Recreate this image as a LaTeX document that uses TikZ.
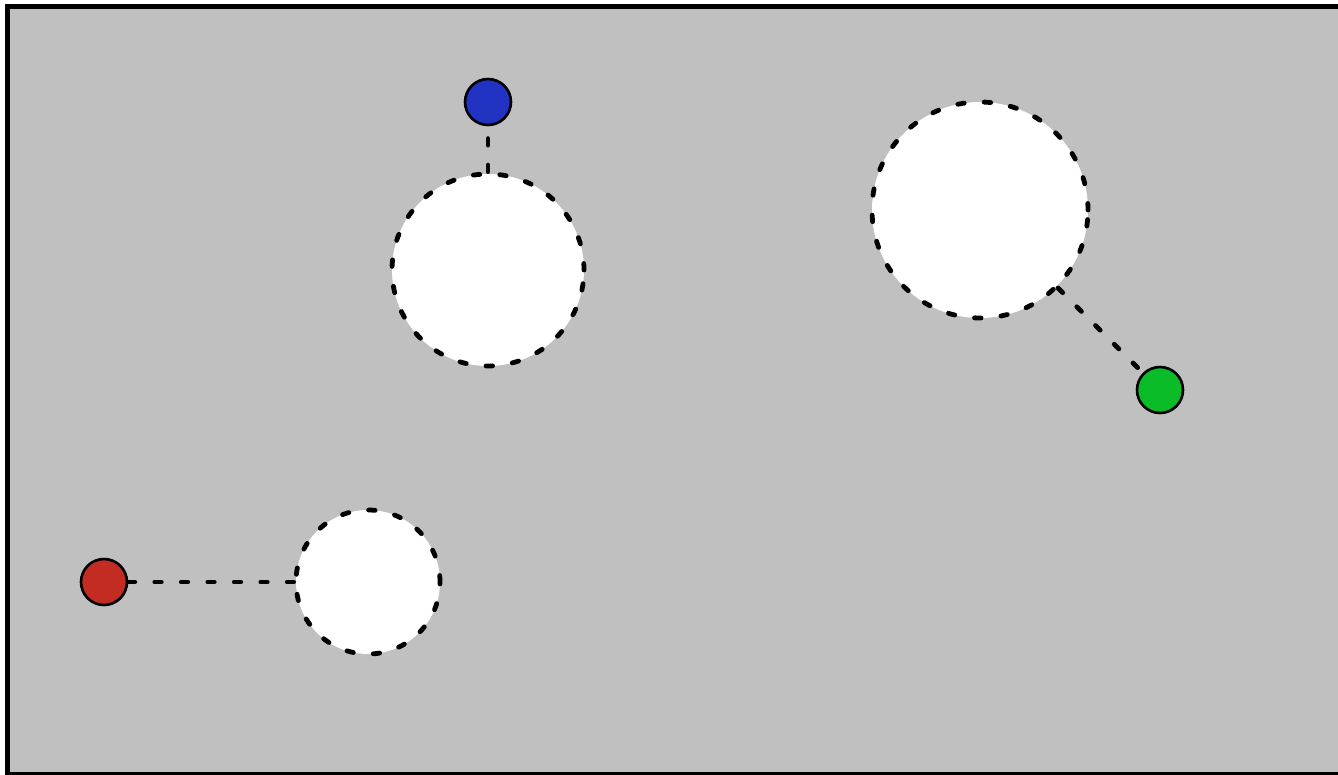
\documentclass[tikz,border=0pt]{standalone}
\definecolor{bggray}{HTML}{C0C0C0}
\definecolor{dotblue}{HTML}{2233C4}
\definecolor{dotgreen}{HTML}{0ABD28}
\definecolor{dotred}{HTML}{C22C22}
\tikzset{
  dot/.style={circle, draw=black, line width=2.6pt, minimum size=46pt, inner sep=0pt},
  hole/.style={circle, fill=white, draw=black, line width=4.8pt, line cap=round, dash pattern=on 6.5pt off 20pt, inner sep=0pt},
  link/.style={draw=black, line width=4.8pt, line cap=round, dash pattern=on 6.5pt off 20pt}
}
\begin{document}
\begin{tikzpicture}[x=1pt,y=-1pt]
\useasboundingbox (0,0) rectangle (1338,774);
\begin{scope}
\clip (0,0) rectangle (1338,774);
\draw[fill=bggray, line width=5pt] (7.5,6.5) rectangle (1350,774.5);
\end{scope}
\node[hole, minimum size=192pt] (h1) at (488,270) {};
\node[hole, minimum size=216pt] (h2) at (980,210) {};
\node[hole, minimum size=144pt] (h3) at (368,582) {};
\node[dot, fill=dotblue] (b) at (488,102) {};
\node[dot, fill=dotgreen] (g) at (1160,390) {};
\node[dot, fill=dotred] (r) at (104,582) {};
\draw[link] (h1.north) -- (b.south);
\draw[link] (h2.south east) -- (g);
\draw[link] (r.east) -- (h3.west);
\end{tikzpicture}
\end{document}
